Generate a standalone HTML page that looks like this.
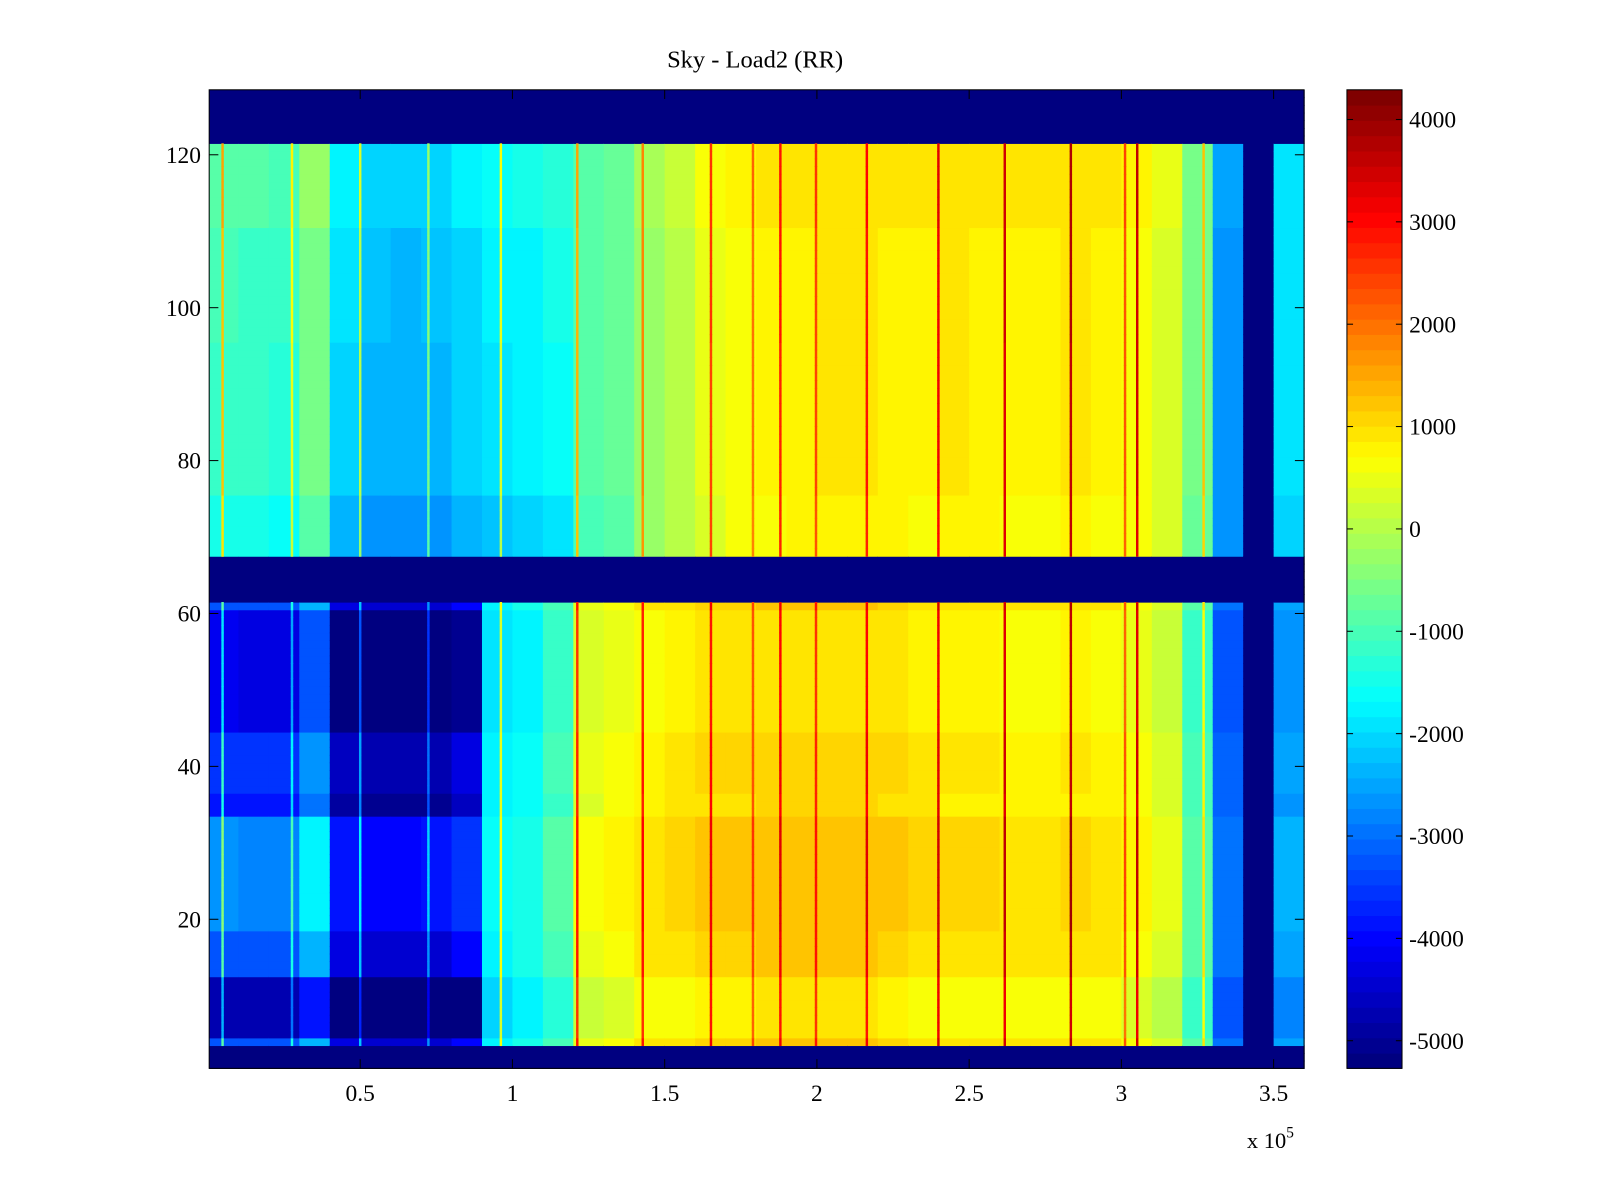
<!DOCTYPE html>
<html><head><meta charset="utf-8"><style>
html,body{margin:0;padding:0;background:#fff;}
svg{display:block;font-family:"Liberation Serif",serif;}
</style></head><body>
<svg id="chart" width="1600" height="1200" viewBox="0 0 1600 1200">
<g transform="scale(1.0204)">
<text x="740" y="66" font-size="24" text-anchor="middle">Sky - Load2 (RR)</text>
<g id="cells"></g>
<g id="stripes"></g>
<g id="axes"></g>
<g id="cbar"></g>
</g>
</svg>
<script>
// data (x in units of 1e5, bins of 0.1e5)
const upperVals=[-1000,-1100,-1200,-500,-1900,-2200,-2300,-2200,-2000,-1800,-1700,-1500,-900,-700,-200,100,500,700,800,850,900,900,850,800,900,850,800,800,900,800,700,400,-600,-2600,-5270,-1900];
const lowerVals=[-3200,-3300,-3300,-2300,-4300,-4500,-4500,-4400,-4000,-1700,-1500,-1000,500,700,900,1000,1100,1100,1200,1200,1200,1200,1100,1000,950,950,900,900,950,900,700,400,-900,-3000,-5270,-2500];
const lowerRowBands=[[4,4,0],[5,12,-1500],[13,18,0],[19,33,500],[34,36,-600],[37,44,-300],[45,60,-1000],[61,61,0]];
const upperRowBands=[[68,75,-400],[76,95,-100],[96,110,0],[111,121,200]];
const stripeX=[0.048,0.276,0.5,0.724,0.962,1.213,1.428,1.652,1.79,1.88,1.997,2.164,2.399,2.617,2.834,3.012,3.052,3.27];
const stripeDelta=[2300,1800,2300,1800,2300,2300,2000,2000,1300,2000,1600,2000,2400,2600,2800,1600,2800,1800];
const xTicks=[0.5,1,1.5,2,2.5,3,3.5];
const yTicks=[20,40,60,80,100,120];
const cbTicks=[4000,3000,2000,1000,0,-1000,-2000,-3000,-4000,-5000];
const emptyRows=[[1,3],[62,67],[122,128]];

const NS='http://www.w3.org/2000/svg';
const X0=205,X1=1278,Y0=88,Y1=1047;
const XMIN=0.004,XMAX=3.6,YMIN=0.5,YMAX=128.5,CMIN=-5270,CMAX=4290;
const sx=v=>X0+(v-XMIN)/(XMAX-XMIN)*(X1-X0);
const sy=v=>Y1-(v-YMIN)/(YMAX-YMIN)*(Y1-Y0);
function jet(v){let t=(v-CMIN)/(CMAX-CMIN);t=Math.max(0,Math.min(1,t));t=Math.floor(t*63.999)/63;
 const f=x=>Math.max(0,Math.min(1,x));
 const r=f(1.5-Math.abs(4*t-3)),g=f(1.5-Math.abs(4*t-2)),b=f(1.5-Math.abs(4*t-1));
 return `rgb(${Math.round(r*255)},${Math.round(g*255)},${Math.round(b*255)})`;}
function mk(tag,attrs,parent){const e=document.createElementNS(NS,tag);for(const k in attrs)e.setAttribute(k,attrs[k]);parent.appendChild(e);return e;}
function isEmpty(r){return emptyRows.some(b=>r>=b[0]&&r<=b[1]);}
function bandDelta(bands,r){for(const b of bands)if(r>=b[0]&&r<=b[1])return b[2];return 0;}
function cellVal(c,r){
 if(isEmpty(r)||upperVals[c]<=CMIN)return CMIN;
 if(r>=68)return upperVals[c]+bandDelta(upperRowBands,r)*(c<12?1:0.3);
 return lowerVals[c]+bandDelta(lowerRowBands,r)*(c<9?1:0.2);}
const cells=document.getElementById('cells');
const nc=upperVals.length;
for(let c=0;c<nc;c++){
 const xa=Math.max(X0,sx(c*0.1)),xb=Math.min(X1,sx((c+1)*0.1));
 for(let r=1;r<=128;r++){
  const rc=mk('rect',{x:xa,y:sy(r+0.5),width:xb-xa+0.6,height:sy(r-0.5)-sy(r+0.5)+0.6,fill:jet(cellVal(c,r))},cells);
  
  
 }}
const stripes=document.getElementById('stripes');
stripeX.forEach((xv,k)=>{
 const c=Math.min(nc-1,Math.floor(xv/0.1));
 for(let r=4;r<=121;r++){if(isEmpty(r))continue;
  const s=mk('rect',{x:sx(xv)-1.2,y:sy(r+0.5),width:2.4,height:sy(r-0.5)-sy(r+0.5)+0.6,fill:jet(cellVal(c,r)+stripeDelta[k])},stripes);
  
  
 }});
const ax=document.getElementById('axes');
mk('rect',{x:X0,y:Y0,width:X1-X0,height:Y1-Y0,fill:'none',stroke:'#000','stroke-width':1},ax);
xTicks.forEach(v=>{const x=sx(v);
 mk('line',{x1:x,y1:Y1,x2:x,y2:Y1-9,stroke:'#000'},ax);mk('line',{x1:x,y1:Y0,x2:x,y2:Y0+9,stroke:'#000'},ax);
 const t=mk('text',{x:x,y:Y1+32,'font-size':23,'text-anchor':'middle'},ax);t.textContent=v;
 
 });
yTicks.forEach(v=>{const y=sy(v);
 mk('line',{x1:X0,y1:y,x2:X0+9,y2:y,stroke:'#000'},ax);mk('line',{x1:X1,y1:y,x2:X1-9,y2:y,stroke:'#000'},ax);
 const t=mk('text',{x:X0-8,y:y+8,'font-size':23,'text-anchor':'end'},ax);t.textContent=v;
 
 });
const ex=mk('text',{x:1222,y:1125,'font-size':22},ax);ex.innerHTML='x 10<tspan dy="-10" font-size="15">5</tspan>';


const cb=document.getElementById('cbar');
const CX0=1320,CX1=1374;
for(let i=0;i<64;i++){const a=CMIN+(CMAX-CMIN)*i/64,b=CMIN+(CMAX-CMIN)*(i+1)/64;
 const yb=Y1-(Y1-Y0)*i/64,ya=Y1-(Y1-Y0)*(i+1)/64;
 const r=mk('rect',{x:CX0,y:ya,width:CX1-CX0,height:yb-ya+0.5,fill:jet((a+b)/2)},cb);
 
 }
mk('rect',{x:CX0,y:Y0,width:CX1-CX0,height:Y1-Y0,fill:'none',stroke:'#000'},cb);
cbTicks.forEach(v=>{const y=Y1-(v-CMIN)/(CMAX-CMIN)*(Y1-Y0);
 mk('line',{x1:CX0,y1:y,x2:CX0+6,y2:y,stroke:'#000'},cb);mk('line',{x1:CX1,y1:y,x2:CX1-6,y2:y,stroke:'#000'},cb);
 const t=mk('text',{x:1381,y:y+8,'font-size':23},cb);t.textContent=v;
 
 });
</script>
</body></html>
